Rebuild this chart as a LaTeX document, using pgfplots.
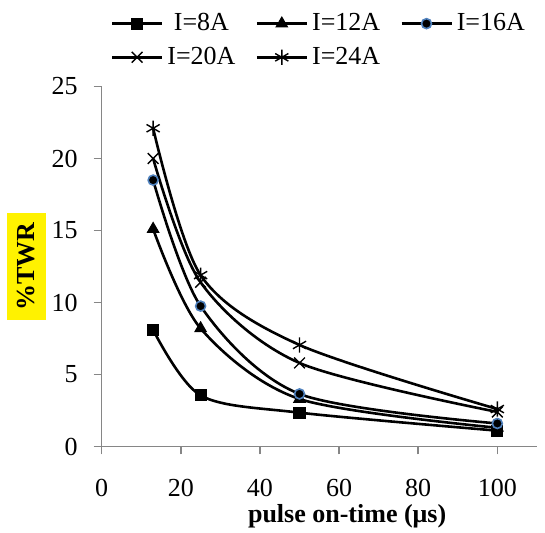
\documentclass[border=0pt]{standalone}
\usepackage{pgfplots}
\pgfplotsset{compat=1.18}
\usepackage{fontspec}
\setmainfont{Liberation Serif}
\definecolor{axgray}{RGB}{134,134,134}
\definecolor{mblue}{RGB}{79,129,189}
\begin{document}
\begin{tikzpicture}
\useasboundingbox (-50.85pt,-43.25pt) rectangle (221.65pt,223.25pt);
\begin{axis}[at={(0,0)}, anchor=south west, scale only axis,
  width=217.6pt, height=180pt,
  xmin=0, xmax=110, ymin=0, ymax=25,
  xtick={0,20,...,100}, ytick={0,5,...,25},
  axis x line=bottom, axis y line=left,
  axis line style={axgray, line width=0.8pt, -},
  tick style={axgray, line width=0.8pt}, tick align=outside, major tick length=4pt,
  /pgf/number format/assume math mode=true,
  tick label style={font=\fontsize{13}{15}\selectfont, black},
  xticklabel style={yshift=-9pt},
  yticklabel style={xshift=-4.5pt},
  xlabel={pulse on-time (μs)},
  xlabel style={at={(axis description cs:0.564,-0.195)}, anchor=center, font=\fontsize{13}{15}\selectfont\bfseries},
  ylabel={\%TWR},
  ylabel style={at={(axis description cs:-0.173,0.5)}, anchor=center, rotate=0, fill=yellow, inner xsep=4.5pt, inner ysep=5.5pt, font=\fontsize{13}{15}\selectfont\bfseries},
  legend columns=3,
  legend style={draw=none, at={(axis description cs:0.02,1.215)}, anchor=north west,
    font=\fontsize{13}{15}\selectfont, /tikz/every even column/.append style={column sep=8pt},
    row sep=2.7pt, inner sep=0pt},
  legend image code/.code={\draw[#1, mark repeat=2, mark phase=2] plot coordinates {(0pt,0pt) (12.5pt,0pt) (25pt,0pt)};},
  every axis plot/.append style={black, line width=1.3pt, smooth, tension=0.5},
]
\addplot[mark=square*, mark size=2.8pt, mark options={solid, line width=0.5pt}] table {
x y
13 8.1
25 3.55
50 2.35
100 1.1
};
\addlegendentry{I=8A}
\addplot[mark=triangle*, mark size=3.3pt, mark options={solid, line width=0.5pt}] table {
x y
13 15.1
25 8.2
50 3.3
100 1.3
};
\addlegendentry{I=12A}
\addplot[mark=*, mark size=2.5pt, mark options={solid, draw=mblue, fill=black, line width=0.8pt}] table {
x y
13 18.5
25 9.75
50 3.65
100 1.6
};
\addlegendentry{I=16A}
\addplot[mark=x, mark size=3.8pt, mark options={solid, line width=0.7pt}] table {
x y
13 20.0
25 11.4
50 5.8
100 2.4
};
\addlegendentry{I=20A}
\addplot[mark=asterisk, mark size=3.8pt, mark options={solid, line width=0.7pt}] table {
x y
13 22.1
25 11.9
50 7.05
100 2.6
};
\addlegendentry{I=24A}
\end{axis}
\end{tikzpicture}
\end{document}
